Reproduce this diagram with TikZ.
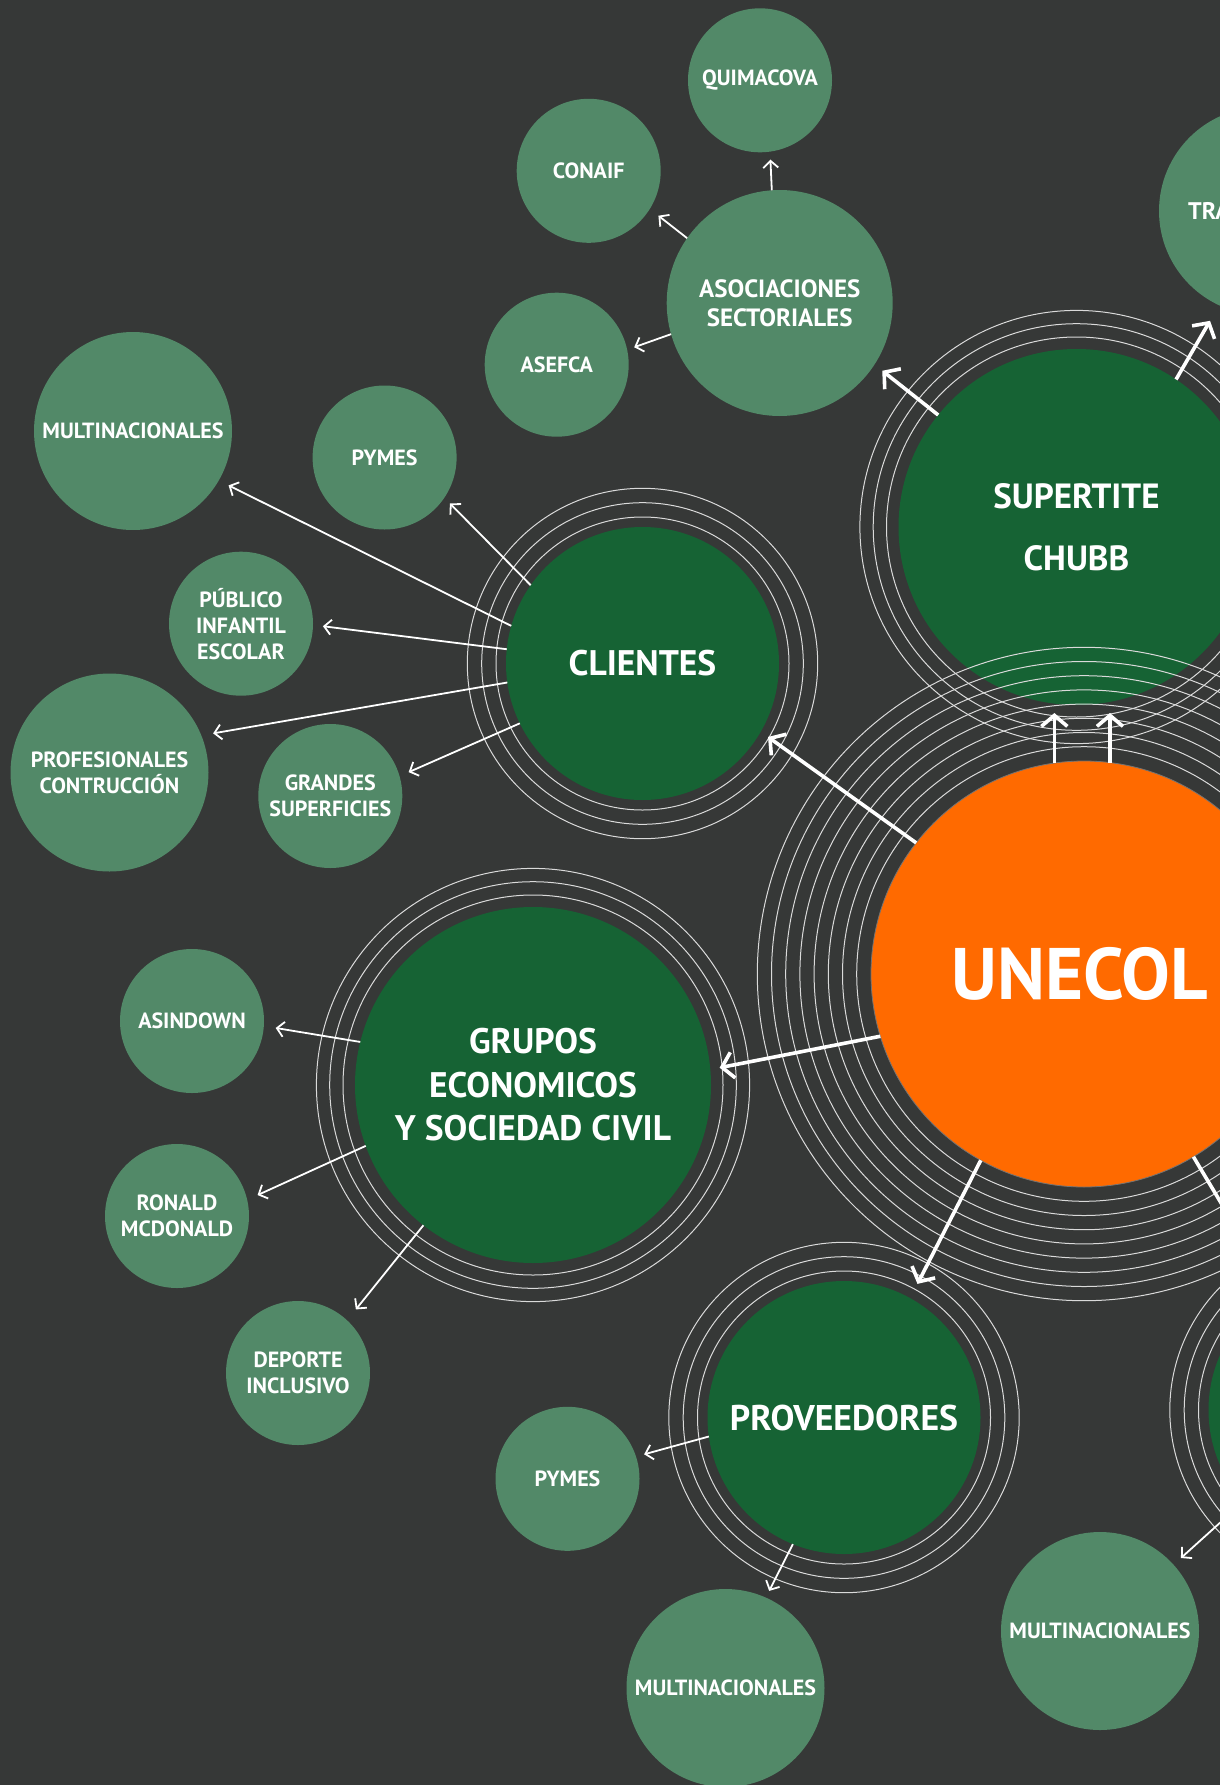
\documentclass[tikz,border=0pt]{standalone}
\usepackage{fontspec}
\setmainfont{PT Sans}
\usetikzlibrary{arrows.meta}
\definecolor{bgc}{HTML}{363837}
\definecolor{lgreen}{HTML}{528968}
\definecolor{dgreen}{HTML}{166334}
\definecolor{uorange}{HTML}{FF6A00}
\definecolor{ringc}{HTML}{DADADA}
\begin{document}
\begin{tikzpicture}[x=1pt,y=-1pt,
  bub/.style={circle, inner sep=0pt, outer sep=0pt, text=white, align=center,
    font=\bfseries\fontsize{22}{26}\selectfont},
  small/.style={bub, fill=lgreen, minimum size=144pt},
  medium/.style={bub, fill=lgreen, minimum size=198pt},
  hubm/.style={bub, fill=dgreen, minimum size=273pt, font=\bfseries\fontsize{35.5}{42}\selectfont},
  hubl/.style={bub, fill=dgreen, minimum size=356pt, font=\bfseries\fontsize{35.5}{43.5}\selectfont},
  ring/.style={draw=ringc, line width=1pt},
  thinarrow/.style={draw=white, line width=1.8pt, -{Straight Barb[length=7pt,width=15pt]}},
  thickarrow/.style={draw=white, line width=3.6pt, -{Straight Barb[length=11pt,width=26pt]}},
]
\useasboundingbox (0,0) rectangle (1220,1785);
\clip (0,0) rectangle (1220,1785);
\fill[bgc] (0,0) rectangle (1220,1785);

% hubs
\node[hubl, font=\bfseries\fontsize{35}{61.5}\selectfont] (sup) at (1076.5,527) {SUPERTITE\\CHUBB};
\node[hubm] (cli) at (642.5,663.5) {CLIENTES};
\node[hubl] (gru) at (533,1085) {GRUPOS\\ECONOMICOS\\Y SOCIEDAD CIVIL};
\node[hubm, font=\bfseries\fontsize{35.7}{42}\selectfont] (pro) at (844,1417.5) {PROVEEDORES};
\node[hubm] (par) at (1345,1410) {};

% satellites
\node[bub, fill=lgreen, minimum size=226pt, font=\bfseries\fontsize{25}{29}\selectfont] (aso) at (779.7,303) {ASOCIACIONES\\SECTORIALES};
\node[small] (qui) at (760,80.3) {QUIMACOVA};
\node[small] (con) at (588.7,170.8) {CONAIF};
\node[small] (ase) at (556.7,364.7) {ASEFCA};
\node[bub, fill=lgreen, minimum size=208pt] (tra) at (1263,211) {};
\node[text=white, anchor=west, inner sep=0pt, font=\bfseries\fontsize{24}{29}\selectfont] (tratxt) at (1188,211) {TRA};
\node[medium] (mul1) at (133,431) {MULTINACIONALES};
\node[small] (pym1) at (384.6,457.5) {PYMES};
\node[small] (pub) at (241,623.7) {PÚBLICO\\INFANTIL\\ESCOLAR};
\node[medium] (prf) at (109.5,772.5) {PROFESIONALES\\CONTRUCCIÓN};
\node[small] (gra) at (330.3,796) {GRANDES\\SUPERFICIES};
\node[small] (asi) at (192,1021) {ASINDOWN};
\node[small] (ron) at (177,1216) {RONALD\\MCDONALD};
\node[small] (dep) at (298,1373) {DEPORTE\\INCLUSIVO};
\node[small] (pym2) at (567.5,1478.8) {PYMES};
\node[medium] (mul2) at (725.5,1688) {MULTINACIONALES};
\node[medium] (mul3) at (1100,1631) {MULTINACIONALES};

% centre
\node[bub, fill=uorange, draw=black!55, line width=0.8pt, minimum size=426pt,
  font=\bfseries\fontsize{73}{80}\selectfont] (une) at (1084,974) {UNECOL\kern8pt};

% rings
\foreach \r in {190,203.3,216.6} {
  \draw[ring] (sup.center) circle[radius=\r pt];
  \draw[ring] (gru.center) circle[radius=\r pt];
}
\foreach \r in {146.5,160.8,175.2} {
  \draw[ring] (cli.center) circle[radius=\r pt];
  \draw[ring] (pro.center) circle[radius=\r pt];
  \draw[ring] (par.center) circle[radius=\r pt];
}
\foreach \k in {0,...,7} {
  \draw[ring] (une.center) circle[radius={227.3pt+14.2pt*\k}];
}

% thick arrows
\draw[thickarrow, shorten >=9pt] (une.142.5) -- (cli.-30.1);
\draw[thickarrow, shorten >=9.5pt] (une.197.6) -- (gru.5.8);
\draw[thickarrow, shorten >=16pt] (une.241.2) -- (pro.61.9);
\draw[thickarrow, shorten >=8pt] (une.98.7) -- (une.98.7 |- sup.south);
\draw[thickarrow, shorten >=8pt] (une.83.6) -- (une.83.6 |- sup.south);
\draw[thickarrow, shorten >=9pt] (une) -- (par);
\draw[thickarrow, shorten >=10pt] (sup.141.9) -- (aso.-33.3);
\draw[thickarrow, shorten >=18pt] (sup.56.3) -- (tra.-115.1);

% thin arrows
\draw[thinarrow, shorten >=8pt] (aso.94.4) -- (qui.-82.1);
\draw[thinarrow, shorten >=11pt] (aso.145) -- (con.-32.2);
\draw[thinarrow, shorten >=7.5pt] (aso.196.9) -- (ase.12.4);
\draw[thinarrow, shorten >=11pt] (cli.164.2) -- (mul1.-30.6);
\draw[thinarrow, shorten >=8pt] (cli.145.4) -- (pym1.-34.6);
\draw[thinarrow, shorten >=10pt] (cli.174.1) -- (pub.-1.2);
\draw[thinarrow, shorten >=12pt] (cli.188.05) -- (prf.22.9);
\draw[thinarrow, shorten >=10pt] (cli.206.7) -- (gra.16);
\draw[thinarrow, shorten >=12pt] (gru.166.8) -- (asi.-4.8);
\draw[thinarrow, shorten >=11.5pt] (gru.200) -- (ron.13.2);
\draw[thinarrow, shorten >=14pt] (gru.232.9) -- (dep.47.6);
\draw[thinarrow, shorten >=8.5pt] (pro.188.9) -- (pym2.18.4);
\draw[thinarrow, shorten >=7.5pt] (pro.248.4) -- (mul2.66.1);
\draw[thinarrow, shorten >=10pt] (par) -- (mul3);
\end{tikzpicture}
\end{document}
